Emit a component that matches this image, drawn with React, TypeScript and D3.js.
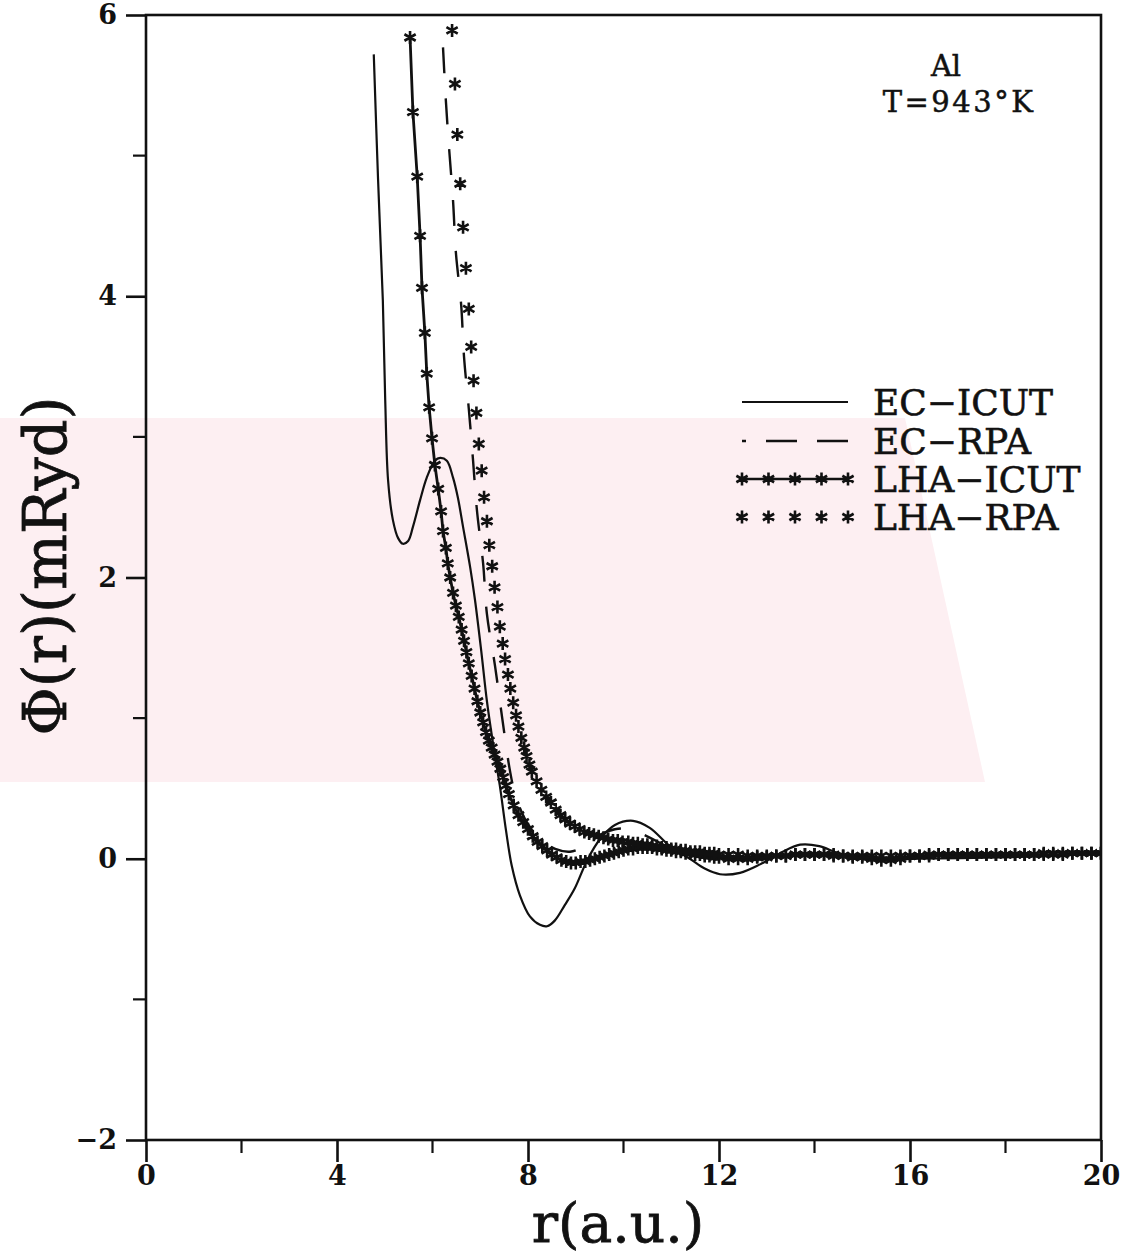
import React, { useEffect, useRef } from 'react'
import * as d3 from 'd3'

const WIDTH = 1139
const HEIGHT = 1256

const xMajor = [0, 4, 8, 12, 16, 20]
const xMinor = [2, 6, 10, 14, 18]
const yMajor = [-2, 0, 2, 4, 6]
const yMinor = [-1, 1, 3, 5]

const legendLabels = ['EC−ICUT', 'EC−RPA', 'LHA−ICUT', 'LHA−RPA']
const noteLines = ['Al', 'T=943°K']

// [r (a.u.), phi (mRyd)]
const ecIcut: [number, number][] = [
  [4.77, 5.72], [4.86, 4.83], [4.96, 3.97], [5.01, 3.26], [5.07, 2.69], [5.17, 2.41],
  [5.28, 2.28], [5.38, 2.24], [5.49, 2.26], [5.59, 2.36], [5.74, 2.55], [5.88, 2.71],
  [6.05, 2.83], [6.16, 2.85], [6.3, 2.83], [6.43, 2.71], [6.53, 2.57], [6.64, 2.36],
  [6.79, 2.07], [6.89, 1.84], [7.02, 1.48], [7.14, 1.12], [7.29, 0.77], [7.41, 0.52],
  [7.54, 0.2], [7.66, -0.05], [7.83, -0.26], [8.04, -0.41], [8.25, -0.47], [8.4, -0.48],
  [8.56, -0.44], [8.77, -0.33], [8.98, -0.21], [9.24, -0.01], [9.51, 0.14], [9.82, 0.24],
  [10.2, 0.27], [10.55, 0.22], [10.97, 0.09], [11.39, 0.0], [11.7, -0.07], [12.02, -0.11],
  [12.44, -0.1], [12.86, -0.04], [13.28, 0.04], [13.7, 0.1], [14.1, 0.09], [14.5, 0.04],
  [15.16, -0.01], [16.2, 0.0], [17.9, 0.01], [19.0, 0.02], [20.0, 0.04]
]

const ecRpa: [number, number][] = [
  [6.22, 5.77], [6.28, 5.39], [6.35, 5.04], [6.43, 4.68], [6.49, 4.31], [6.6, 3.94],
  [6.66, 3.57], [6.76, 3.2], [6.85, 2.83], [6.93, 2.48], [7.06, 2.1], [7.14, 1.74],
  [7.31, 1.37], [7.46, 1.0], [7.62, 0.63], [7.73, 0.46], [7.94, 0.28], [8.25, 0.14],
  [8.57, 0.07], [8.88, 0.05], [9.19, 0.09], [9.51, 0.17], [9.82, 0.21], [10.14, 0.21],
  [10.55, 0.15], [10.97, 0.08], [11.6, 0.01], [12.23, -0.01], [13.07, 0.0], [13.9, 0.04],
  [14.74, 0.02], [16.84, 0.01], [18.5, 0.02], [20.0, 0.035]
]

const lhaIcut: [number, number][] = [
  [5.53, 5.84], [5.59, 5.31], [5.68, 4.85], [5.74, 4.43], [5.78, 4.06], [5.84, 3.74],
  [5.88, 3.45], [5.93, 3.21], [5.99, 2.99], [6.05, 2.8], [6.12, 2.63], [6.18, 2.47],
  [6.22, 2.33], [6.28, 2.21], [6.32, 2.1], [6.37, 2.0], [6.43, 1.89], [6.49, 1.8],
  [6.55, 1.72], [6.61, 1.63], [6.66, 1.55], [6.71, 1.47], [6.76, 1.39], [6.82, 1.3],
  [6.88, 1.21], [6.94, 1.12], [7.0, 1.04], [7.06, 0.97], [7.12, 0.9], [7.18, 0.84],
  [7.24, 0.79], [7.3, 0.74], [7.36, 0.69], [7.42, 0.64], [7.48, 0.58], [7.54, 0.52],
  [7.6, 0.46], [7.7, 0.38], [7.8, 0.31], [7.9, 0.26], [8.0, 0.21], [8.1, 0.16],
  [8.2, 0.12], [8.3, 0.09], [8.4, 0.06], [8.5, 0.03], [8.6, 0.01], [8.7, -0.01],
  [8.8, -0.02], [8.9, -0.03], [9.0, -0.03], [9.1, -0.02], [9.2, -0.02], [9.3, -0.01],
  [9.4, 0.0], [9.5, 0.01], [9.6, 0.02], [9.7, 0.03], [9.8, 0.04], [9.9, 0.05],
  [10.0, 0.06], [10.1, 0.07], [10.2, 0.07], [10.3, 0.08], [10.4, 0.08], [10.5, 0.08],
  [10.6, 0.08], [10.7, 0.07], [10.8, 0.07], [10.9, 0.06], [11.0, 0.06], [11.1, 0.05],
  [11.2, 0.05], [11.3, 0.04], [11.4, 0.04], [11.5, 0.03], [11.6, 0.03], [11.7, 0.02],
  [11.8, 0.02], [11.9, 0.01], [12.0, 0.01], [12.2, 0.0], [12.4, 0.0], [12.6, 0.0],
  [12.8, 0.01], [13.0, 0.01], [13.2, 0.02], [13.4, 0.02], [13.6, 0.03], [13.8, 0.03],
  [14.0, 0.03], [14.2, 0.03], [14.4, 0.02], [14.6, 0.02], [14.8, 0.01], [15.0, 0.01],
  [15.2, 0.0], [15.4, -0.01], [15.6, -0.01], [15.8, 0.0], [16.0, 0.02], [16.2, 0.02],
  [16.4, 0.02], [16.6, 0.03], [16.8, 0.03], [17.0, 0.03], [17.2, 0.03], [17.4, 0.03],
  [17.6, 0.03], [17.8, 0.03], [18.0, 0.03], [18.2, 0.03], [18.4, 0.03], [18.6, 0.03],
  [18.8, 0.03], [19.0, 0.03], [19.2, 0.03], [19.4, 0.04], [19.6, 0.04], [19.8, 0.04],
  [20.0, 0.04]
]

const lhaRpa: [number, number][] = [
  [6.41, 5.89], [6.47, 5.51], [6.52, 5.15], [6.58, 4.8], [6.64, 4.49], [6.7, 4.2],
  [6.76, 3.91], [6.81, 3.64], [6.86, 3.4], [6.92, 3.17], [6.97, 2.95], [7.03, 2.76],
  [7.08, 2.57], [7.14, 2.4], [7.19, 2.23], [7.25, 2.08], [7.3, 1.93], [7.36, 1.79],
  [7.41, 1.65], [7.47, 1.53], [7.52, 1.42], [7.58, 1.31], [7.63, 1.21], [7.69, 1.11],
  [7.75, 1.02], [7.8, 0.94], [7.86, 0.86], [7.92, 0.79], [7.97, 0.73], [8.03, 0.67],
  [8.08, 0.62], [8.18, 0.55], [8.28, 0.49], [8.38, 0.44], [8.48, 0.4], [8.58, 0.35],
  [8.68, 0.31], [8.78, 0.28], [8.88, 0.25], [8.98, 0.23], [9.08, 0.21], [9.18, 0.19],
  [9.28, 0.18], [9.38, 0.17], [9.48, 0.16], [9.58, 0.15], [9.68, 0.14], [9.78, 0.13],
  [9.88, 0.13], [9.98, 0.12], [10.1, 0.12], [10.2, 0.11], [10.3, 0.11], [10.4, 0.1],
  [10.5, 0.1], [10.6, 0.09], [10.7, 0.09], [10.8, 0.08], [10.9, 0.08], [11.0, 0.07],
  [11.1, 0.07], [11.2, 0.06], [11.3, 0.06], [11.4, 0.05], [11.5, 0.05], [11.6, 0.05],
  [11.7, 0.04], [11.8, 0.04], [11.9, 0.04], [12.0, 0.03], [12.2, 0.03], [12.4, 0.03],
  [12.6, 0.02], [12.8, 0.02], [13.0, 0.02], [13.2, 0.02], [13.4, 0.02], [13.6, 0.03],
  [13.8, 0.03], [14.0, 0.03], [14.2, 0.03], [14.4, 0.03], [14.6, 0.02], [14.8, 0.02],
  [15.0, 0.02], [15.2, 0.02], [15.4, 0.02], [15.6, 0.02], [15.8, 0.02], [16.0, 0.02],
  [16.2, 0.02], [16.4, 0.03], [16.6, 0.03], [16.8, 0.03], [17.0, 0.03], [17.2, 0.03],
  [17.4, 0.03], [17.6, 0.03], [17.8, 0.03], [18.0, 0.03], [18.2, 0.03], [18.4, 0.03],
  [18.6, 0.03], [18.8, 0.04], [19.0, 0.04], [19.2, 0.04], [19.4, 0.04], [19.6, 0.04],
  [19.8, 0.04], [20.0, 0.04]
]

const SERIF = '"DejaVu Serif", "Liberation Serif", serif'
const INK = '#111'

function starPath(cx: number, cy: number, r: number) {
  let p = ''
  for (const a of [90, 30, -30]) {
    const t = (a * Math.PI) / 180
    const dx = r * Math.cos(t)
    const dy = r * Math.sin(t)
    p += `M${cx - dx},${cy - dy}L${cx + dx},${cy + dy}`
  }
  return p
}

function PairPotential() {
  const ref = useRef<SVGSVGElement>(null)

  useEffect(() => {
    const svg = d3.select(ref.current)
    svg.selectAll('*').remove()

    const x = d3.scaleLinear().domain([0, 20]).range([146, 1101])
    const y = d3.scaleLinear().domain([-2, 6]).range([1140, 15])

    svg.append('rect').attr('width', WIDTH).attr('height', HEIGHT).attr('fill', '#fff')

    // faint watermark band of the scanned page
    svg
      .append('polygon')
      .attr('points', '0,418 905,418 985,782 0,782')
      .attr('fill', '#fdeff2')

    svg
      .append('defs')
      .append('clipPath')
      .attr('id', 'plot-clip')
      .append('rect')
      .attr('x', x(0))
      .attr('y', y(6))
      .attr('width', x(20) - x(0))
      .attr('height', y(-2) - y(6))

    const plot = svg.append('g').attr('clip-path', 'url(#plot-clip)')

    const smooth = d3
      .line<[number, number]>()
      .x(d => x(d[0]))
      .y(d => y(d[1]))
      .curve(d3.curveCatmullRom.alpha(0.5))

    const straight = d3
      .line<[number, number]>()
      .x(d => x(d[0]))
      .y(d => y(d[1]))

    plot
      .append('path')
      .attr('d', smooth(ecIcut))
      .attr('fill', 'none')
      .attr('stroke', INK)
      .attr('stroke-width', 2.2)

    plot
      .append('path')
      .attr('d', smooth(ecRpa))
      .attr('fill', 'none')
      .attr('stroke', INK)
      .attr('stroke-width', 2.4)
      .attr('stroke-dasharray', '26 25')

    plot
      .append('path')
      .attr('d', straight(lhaIcut))
      .attr('fill', 'none')
      .attr('stroke', INK)
      .attr('stroke-width', 2.8)

    const stars = (data: [number, number][]) =>
      data.map(d => starPath(x(d[0]), y(d[1]), 6.5)).join('')

    plot
      .append('path')
      .attr('d', stars(lhaIcut))
      .attr('fill', 'none')
      .attr('stroke', INK)
      .attr('stroke-width', 2.6)

    plot
      .append('path')
      .attr('d', stars(lhaRpa))
      .attr('fill', 'none')
      .attr('stroke', INK)
      .attr('stroke-width', 2.6)

    // frame
    svg
      .append('rect')
      .attr('x', x(0))
      .attr('y', y(6))
      .attr('width', x(20) - x(0))
      .attr('height', y(-2) - y(6))
      .attr('fill', 'none')
      .attr('stroke', INK)
      .attr('stroke-width', 2.6)

    const xAxis = svg
      .append('g')
      .attr('transform', `translate(0,${y(-2)})`)
      .call(d3.axisBottom(x).tickValues(xMajor).tickSize(22).tickPadding(4).tickFormat(d3.format('d')))
    xAxis.select('.domain').remove()
    xAxis.selectAll('line').attr('stroke', INK).attr('stroke-width', 2.6)

    svg
      .append('g')
      .selectAll('line')
      .data(xMinor)
      .join('line')
      .attr('x1', d => x(d))
      .attr('x2', d => x(d))
      .attr('y1', y(-2))
      .attr('y2', y(-2) + 13)
      .attr('stroke', INK)
      .attr('stroke-width', 2.2)

    const yAxis = svg
      .append('g')
      .attr('transform', `translate(${x(0)},0)`)
      .call(d3.axisLeft(y).tickValues(yMajor).tickSize(20).tickPadding(9).tickFormat(d3.format('d')))
    yAxis.select('.domain').remove()
    yAxis.selectAll('line').attr('stroke', INK).attr('stroke-width', 2.6)

    svg
      .append('g')
      .selectAll('line')
      .data(yMinor)
      .join('line')
      .attr('x1', x(0) - 13)
      .attr('x2', x(0))
      .attr('y1', d => y(d))
      .attr('y2', d => y(d))
      .attr('stroke', INK)
      .attr('stroke-width', 2.2)

    svg
      .selectAll('.tick text')
      .attr('font-family', SERIF)
      .attr('font-size', 27)
      .attr('font-weight', 'bold')
      .attr('fill', INK)

    // axis titles
    svg
      .append('text')
      .attr('x', 618)
      .attr('y', 1242)
      .attr('text-anchor', 'middle')
      .attr('font-family', SERIF)
      .attr('font-size', 55)
      .attr('fill', INK)
      .attr('stroke', INK)
      .attr('stroke-width', 0.8)
      .text('r(a.u.)')

    svg
      .append('text')
      .attr('transform', 'translate(66,566) rotate(-90)')
      .attr('text-anchor', 'middle')
      .attr('font-family', SERIF)
      .attr('font-size', 59)
      .attr('fill', INK)
      .attr('stroke', INK)
      .attr('stroke-width', 0.8)
      .text('Φ(r)(mRyd)')

    // note
    svg
      .append('g')
      .selectAll('text')
      .data(noteLines)
      .join('text')
      .attr('x', (d, i) => (i === 0 ? 946 : 959))
      .attr('y', (d, i) => 76 + i * 36)
      .attr('text-anchor', 'middle')
      .attr('font-family', SERIF)
      .attr('font-size', 29)
      .attr('letter-spacing', (d, i) => (i === 0 ? 0 : 2.5))
      .attr('fill', INK)
      .attr('stroke', INK)
      .attr('stroke-width', 0.5)
      .text(d => d)

    // legend
    const lx0 = 742
    const lx1 = 848
    const rowY = [402, 441, 479, 517]
    const legend = svg.append('g')

    legend
      .selectAll('text')
      .data(legendLabels)
      .join('text')
      .attr('x', 873)
      .attr('y', (d, i) => rowY[i] + 13)
      .attr('font-family', SERIF)
      .attr('font-size', 36)
      .attr('fill', INK)
      .attr('stroke', INK)
      .attr('stroke-width', 0.6)
      .text(d => d)

    legend
      .append('line')
      .attr('x1', lx0)
      .attr('x2', lx1)
      .attr('y1', rowY[0])
      .attr('y2', rowY[0])
      .attr('stroke', INK)
      .attr('stroke-width', 2.2)

    legend
      .append('line')
      .attr('x1', lx1)
      .attr('x2', lx0)
      .attr('y1', rowY[1])
      .attr('y2', rowY[1])
      .attr('stroke', INK)
      .attr('stroke-width', 2.4)
      .attr('stroke-dasharray', '31 20')

    legend
      .append('line')
      .attr('x1', lx0)
      .attr('x2', lx1)
      .attr('y1', rowY[2])
      .attr('y2', rowY[2])
      .attr('stroke', INK)
      .attr('stroke-width', 2.6)

    const starXs = d3.range(5).map(i => lx0 + (i * (lx1 - lx0)) / 4)
    legend
      .append('path')
      .attr(
        'd',
        starXs.map(sx => starPath(sx, rowY[2], 6.5)).join('') +
          starXs.map(sx => starPath(sx, rowY[3], 6.5)).join('')
      )
      .attr('fill', 'none')
      .attr('stroke', INK)
      .attr('stroke-width', 2.6)
  }, [])

  return <svg ref={ref} width={WIDTH} height={HEIGHT} style={{ position: 'absolute', left: 0, top: 0 }} />
}

export default function App() {
  return <PairPotential />
}
